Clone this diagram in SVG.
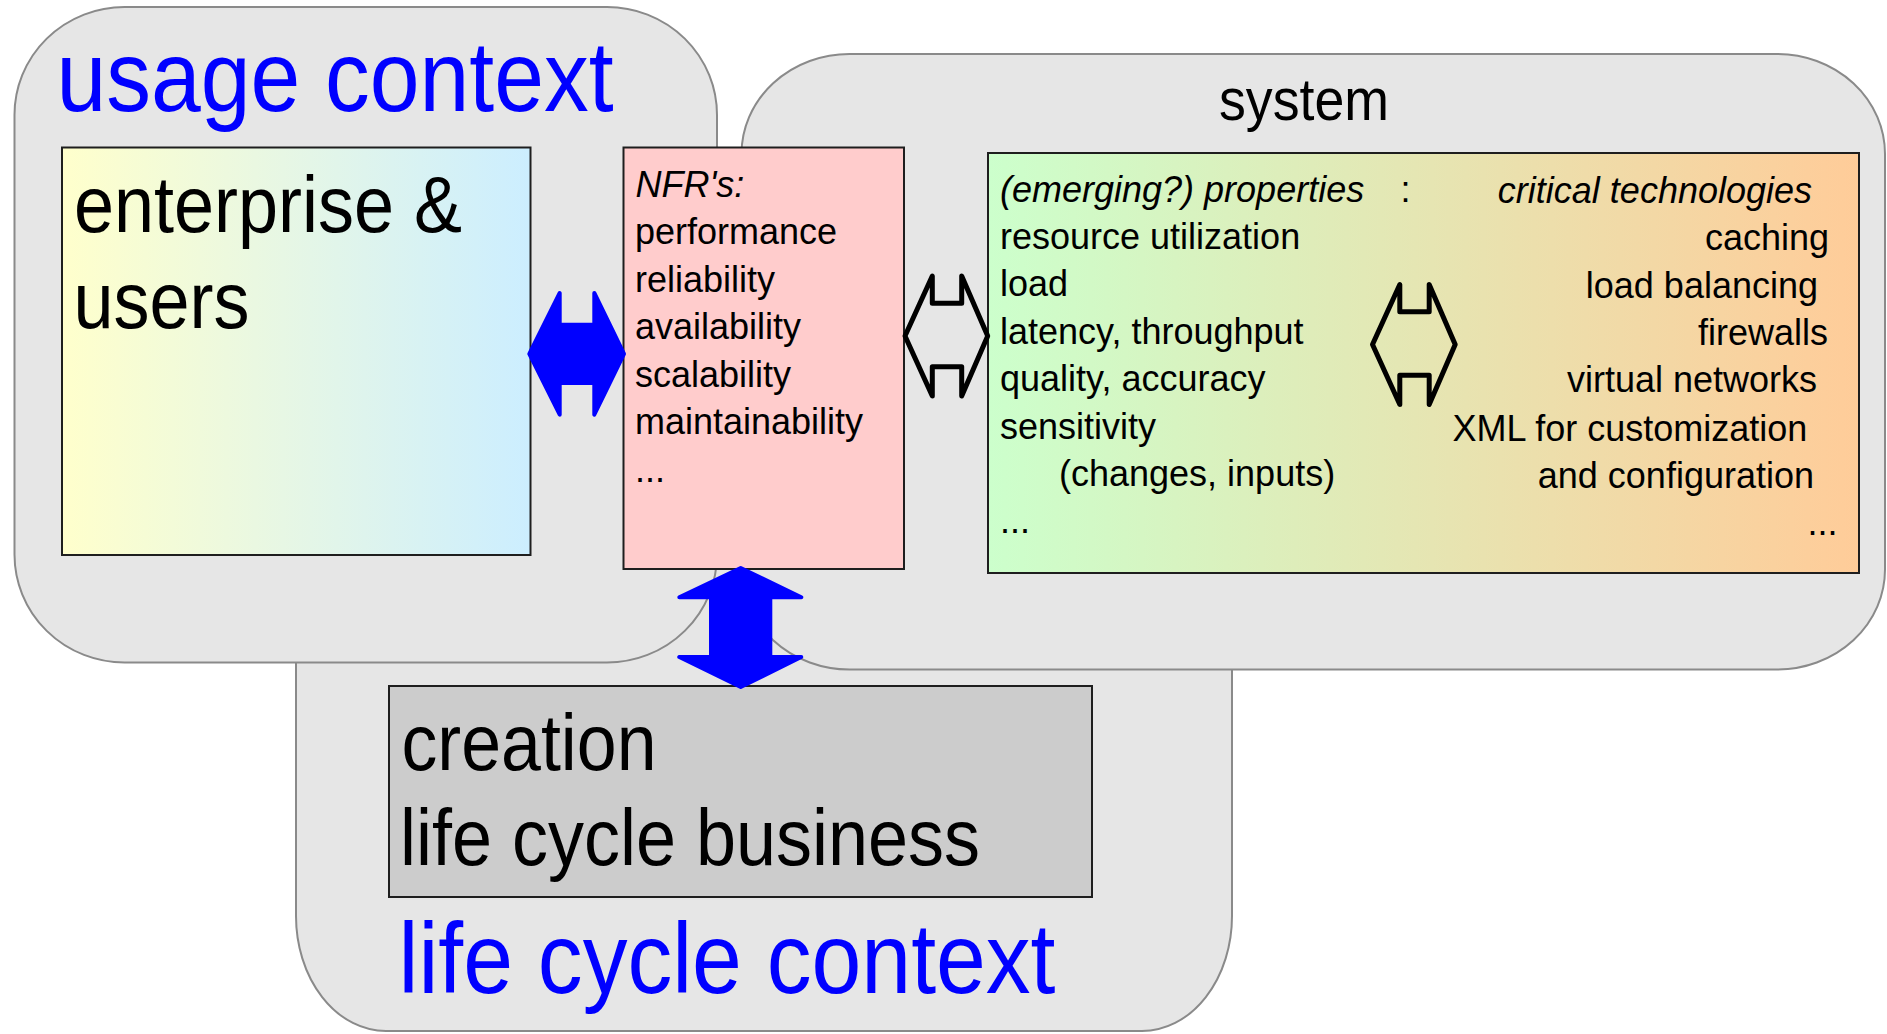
<svg xmlns="http://www.w3.org/2000/svg" width="1887" height="1034" viewBox="0 0 1887 1034">
<style>
.ctx{fill:#e6e6e6;stroke:#8a8a8a;stroke-width:2}
.box{stroke:#1e1e1e;stroke-width:2}
.t{font-family:"Liberation Sans",Arial,sans-serif;fill:#000}
.it{font-style:italic}
.blue{fill:#0000ff}
.barrow{fill:#0000ff;stroke:#0000ff;stroke-width:4;stroke-linejoin:round}
.harrow{fill:none;stroke:#000;stroke-width:5;stroke-linejoin:round}
</style>
<defs>
<linearGradient id="gEnt" x1="0" y1="0" x2="1" y2="0">
<stop offset="0" stop-color="#ffffcc"/>
<stop offset="1" stop-color="#cceeff"/>
</linearGradient>
<linearGradient id="gSys" x1="0" y1="0" x2="1" y2="0">
<stop offset="0" stop-color="#ccffcc"/>
<stop offset="1" stop-color="#ffcc99"/>
</linearGradient>
</defs>
<rect width="1887" height="1034" fill="#ffffff"/>

<g id="lifecycle-context">
<rect class="ctx" x="296" y="400" width="936" height="631" rx="90" ry="115"/>
</g>
<g id="usage-context">
<rect class="ctx" x="14.5" y="7" width="702.5" height="655.5" rx="110" ry="108"/>
<text class="t blue" x="56.5" y="110.7" font-size="101" textLength="557" lengthAdjust="spacingAndGlyphs">usage context</text>
</g>
<g id="system">
<rect class="ctx" x="741.5" y="54" width="1143.5" height="615.5" rx="108" ry="100"/>
<text class="t" x="1219" y="120" font-size="60" textLength="170" lengthAdjust="spacingAndGlyphs">system</text>
</g>

<g id="enterprise-users">
<rect class="box" x="62" y="147.5" width="468.5" height="407.5" fill="url(#gEnt)"/>
<text class="t" x="74" y="231.7" font-size="79.5" textLength="388" lengthAdjust="spacingAndGlyphs">enterprise &amp;</text>
<text class="t" x="73.5" y="328.3" font-size="79.5" textLength="176" lengthAdjust="spacingAndGlyphs">users</text>
</g>

<g id="nfrs">
<rect class="box" x="623.5" y="147.5" width="280.5" height="421.5" fill="#ffcccc"/>
<g class="t" font-size="36">
<text class="it" x="635.5" y="196.6">NFR's:</text>
<text x="635" y="244">performance</text>
<text x="635" y="291.5">reliability</text>
<text x="635" y="339">availability</text>
<text x="635" y="386.5">scalability</text>
<text x="635" y="434">maintainability</text>
<text x="635" y="481.5">...</text>
</g>
</g>

<g id="properties-technologies">
<rect class="box" x="988" y="153" width="871" height="420" fill="url(#gSys)"/>
<g class="t" font-size="36">
<text class="it" x="1000" y="201.5">(emerging?) properties</text>
<text x="1400.6" y="201.5">:</text>
<text x="1000" y="248.5">resource utilization</text>
<text x="1000" y="296">load</text>
<text x="1000" y="343.5">latency, throughput</text>
<text x="1000" y="391">quality, accuracy</text>
<text x="1000" y="438.5">sensitivity</text>
<text x="1059" y="485.5">(changes, inputs)</text>
<text x="1000" y="533">...</text>
</g>
<g class="t" font-size="36" text-anchor="end">
<text class="it" x="1812" y="203.3">critical technologies</text>
<text x="1829" y="250">caching</text>
<text x="1818" y="297.7">load balancing</text>
<text x="1828" y="345">firewalls</text>
<text x="1817" y="392.3">virtual networks</text>
<text x="1807.4" y="441">XML for customization</text>
<text x="1814" y="488.3">and configuration</text>
<text x="1837.6" y="535">...</text>
</g>
</g>

<g id="creation-business">
<rect class="box" x="389" y="686" width="703" height="211" fill="#cccccc"/>
<text class="t" x="401.5" y="770" font-size="79.5" textLength="255" lengthAdjust="spacingAndGlyphs">creation</text>
<text class="t" x="400" y="865" font-size="79.5" textLength="580" lengthAdjust="spacingAndGlyphs">life cycle business</text>
<text class="t blue" x="398.5" y="993" font-size="101" textLength="657" lengthAdjust="spacingAndGlyphs">life cycle context</text>
</g>

<g id="connectors">
<polygon class="barrow" points="529.3,353.8 559.7,293 559.7,324.7 594.3,324.7 594.3,293 624,353.8 594.3,414.7 594.3,383 559.7,383 559.7,414.7"/>
<polygon class="harrow" points="905,336 932.3,276 932.3,303.3 961.7,303.3 961.7,276 987.7,336 961.7,396 961.7,366.7 932.3,366.7 932.3,396"/>
<polygon class="harrow" transform="translate(467.5,8.5)" points="905,336 932.3,276 932.3,303.3 961.7,303.3 961.7,276 987.7,336 961.7,396 961.7,366.7 932.3,366.7 932.3,396"/>
<polygon class="barrow" points="740.7,568 801.3,597.3 770.3,597.3 770.3,657 801.3,657 740.7,687 679.3,657 711,657 711,597.3 679.3,597.3"/>
</g>
</svg>
